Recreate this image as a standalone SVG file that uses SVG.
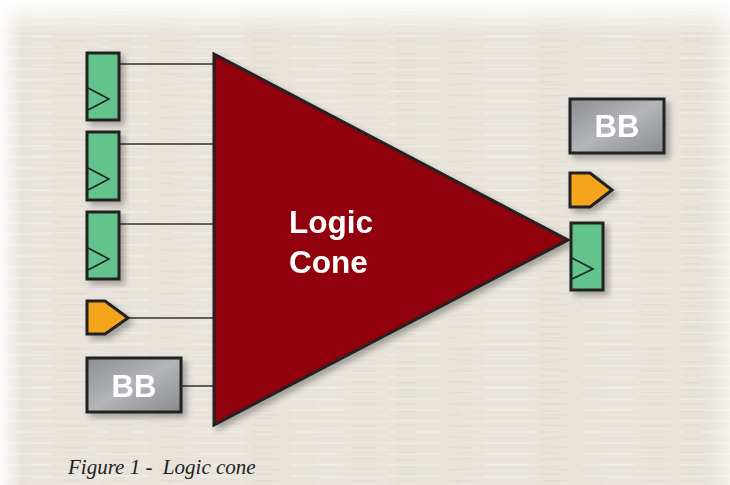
<svg xmlns="http://www.w3.org/2000/svg" width="730" height="485" viewBox="0 0 730 485">
  <defs>
    <linearGradient id="bbFill" x1="0" y1="0" x2="1" y2="1">
      <stop offset="0" stop-color="#8d8e92"/>
      <stop offset="0.5" stop-color="#b4b5b9"/>
      <stop offset="1" stop-color="#8a8b8f"/>
    </linearGradient>
    <linearGradient id="topFade" x1="0" y1="0" x2="0" y2="1">
      <stop offset="0" stop-color="#ffffff" stop-opacity="1"/>
      <stop offset="0.07" stop-color="#ffffff" stop-opacity="0"/>
    </linearGradient>
    <linearGradient id="leftFade" x1="0" y1="0" x2="1" y2="0">
      <stop offset="0" stop-color="#ffffff" stop-opacity="0.9"/>
      <stop offset="0.03" stop-color="#ffffff" stop-opacity="0"/>
      <stop offset="0.97" stop-color="#ffffff" stop-opacity="0"/>
      <stop offset="1" stop-color="#ffffff" stop-opacity="0.5"/>
    </linearGradient>
    <!-- two offset streak patterns of different sizes for a paper grain -->
    <pattern id="grainA" width="97" height="11" patternUnits="userSpaceOnUse">
      <rect x="0" y="2" width="52" height="2" fill="#ffffff" opacity="0.22"/>
      <rect x="61" y="7" width="24" height="1.5" fill="#d8d2c8" opacity="0.3"/>
    </pattern>
    <pattern id="grainB" width="143" height="7" patternUnits="userSpaceOnUse">
      <rect x="30" y="1" width="70" height="1.5" fill="#ffffff" opacity="0.18"/>
      <rect x="110" y="4" width="20" height="2" fill="#d8d2c8" opacity="0.25"/>
    </pattern>
    <filter id="shadow" x="-20%" y="-20%" width="150%" height="150%">
      <feDropShadow dx="4" dy="4" stdDeviation="3" flood-color="#000" flood-opacity="0.3"/>
    </filter>
    <style>
      .ff { fill: #62c38c; stroke: #222; stroke-width: 3; }
      .clk { fill: none; stroke: #222; stroke-width: 1.6; }
      .port { fill: #f5a51f; stroke: #222; stroke-width: 3; stroke-linejoin: miter; }
      .bb { fill: url(#bbFill); stroke: #222; stroke-width: 3; }
      .bbText { font-family: "Liberation Sans", Arial, sans-serif; font-weight: bold; font-size: 31px; fill: #ffffff; text-anchor: middle; }
      .wire { stroke: #333; stroke-width: 1.5; fill: none; }
      .cone { fill: #900008; stroke: #222; stroke-width: 3; stroke-linejoin: miter; }
      .coneText { font-family: "Liberation Sans", Arial, sans-serif; font-weight: bold; font-size: 31.5px; fill: #ffffff; }
      .caption { font-family: "Liberation Serif", "Times New Roman", serif; font-style: italic; font-size: 21px; fill: #222; white-space: pre; }
    </style>
  </defs>

  <!-- textured paper background -->
  <rect width="730" height="485" fill="#e8e3db"/>
  <rect width="730" height="485" fill="url(#grainA)"/>
  <rect width="730" height="485" fill="url(#grainB)"/>
  <rect width="730" height="485" fill="url(#leftFade)"/>
  <rect width="730" height="485" fill="url(#topFade)"/>

  <!-- wires into the cone -->
  <g id="connectors">
    <line class="wire" x1="119" y1="64" x2="214" y2="64"/>
    <line class="wire" x1="119" y1="144" x2="214" y2="144"/>
    <line class="wire" x1="119" y1="224" x2="214" y2="224"/>
    <line class="wire" x1="129" y1="318" x2="214" y2="318"/>
    <line class="wire" x1="181" y1="386" x2="214" y2="386"/>
  </g>

  <!-- logic cone -->
  <g id="cone" filter="url(#shadow)">
    <polygon class="cone" points="214,54 568,240 214,425"/>
    <text class="coneText" x="289" y="233">Logic</text>
    <text class="coneText" x="289" y="273">Cone</text>
  </g>

  <!-- input flip-flops -->
  <g id="ff1" filter="url(#shadow)">
    <rect class="ff" x="87" y="53" width="32" height="67"/>
    <polyline class="clk" points="88,88 109,99 88,110"/>
  </g>
  <g id="ff2" filter="url(#shadow)">
    <rect class="ff" x="87" y="132" width="32" height="68"/>
    <polyline class="clk" points="88,168 109,179 88,190"/>
  </g>
  <g id="ff3" filter="url(#shadow)">
    <rect class="ff" x="87" y="212" width="32" height="67"/>
    <polyline class="clk" points="88,248 109,259 88,270"/>
  </g>

  <!-- input port -->
  <g id="inPort" filter="url(#shadow)">
    <polygon class="port" points="87,301 105,301 128,318 105,334 87,334"/>
  </g>

  <!-- input black box -->
  <g id="inBB" filter="url(#shadow)">
    <rect class="bb" x="87" y="358" width="94" height="54"/>
    <text class="bbText" x="134" y="397">BB</text>
  </g>

  <!-- output black box -->
  <g id="outBB" filter="url(#shadow)">
    <rect class="bb" x="570" y="99" width="94" height="54"/>
    <text class="bbText" x="617" y="137">BB</text>
  </g>

  <!-- output port -->
  <g id="outPort" filter="url(#shadow)">
    <polygon class="port" points="570,173 590,173 612,190 590,207 570,207"/>
  </g>

  <!-- output flip-flop -->
  <g id="ffOut" filter="url(#shadow)">
    <rect class="ff" x="571" y="223" width="32" height="67"/>
    <polyline class="clk" points="572,258 593,269 572,279"/>
  </g>

  <text class="caption" x="68" y="474" xml:space="preserve">Figure 1 -  Logic cone</text>
</svg>
